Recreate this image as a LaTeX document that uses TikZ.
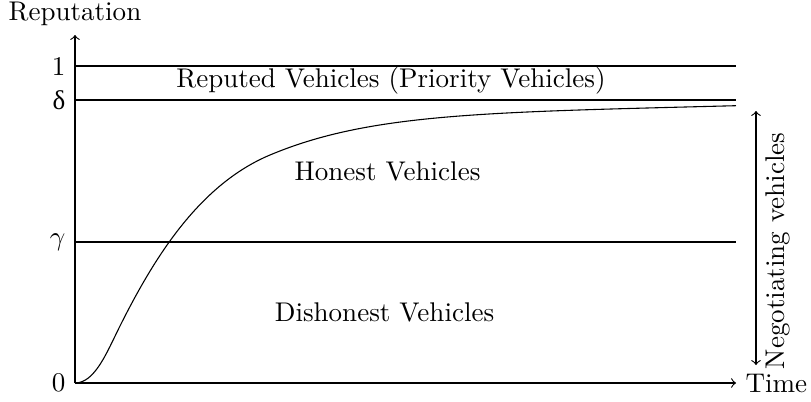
\documentclass[tikz,border=0pt]{standalone}
\usepackage{fontspec}
\newfontfamily\greekfont{Liberation Serif}
\usetikzlibrary{positioning, arrows.meta}

\begin{document}
\begin{tikzpicture}[
    >=to, % Thin default arrows
    % Styles
    axis/.style={ % Time and reputation axes
        ->
    },
    level/.style={ % Reputation thresholds
        black
    },
    ticklabel/.style={ % Values on the reputation axis
        left
    },
    region/.style={ % Vehicle classes
        align=center
    }
]
    \useasboundingbox (-0.975,-0.247) rectangle (9.568,4.979);

    % Axes
    \coordinate (o) at (0,0);
    \coordinate (xend) at (8.593,0);
    \coordinate (yend) at (0,4.524);
    \draw[axis] (o) -- (xend);
    \draw[axis] (o) -- (yend);
    \node[right] (xlabel) at (xend) {Time};
    \node[anchor=base] (ylabel) at (0,4.719) {Reputation};

    % Threshold lines
    \coordinate (one) at (0,4.121);
    \coordinate (oneend) at (8.593,4.121);
    \coordinate (delta) at (0,3.679);
    \coordinate (deltaend) at (8.593,3.679);
    \coordinate (gamma) at (0,1.833);
    \coordinate (gammaend) at (8.593,1.833);
    \draw[level] (one) -- (oneend);
    \draw[level] (delta) -- (deltaend);
    \draw[level] (gamma) -- (gammaend);

    % Axis values
    \node[ticklabel] (zerolabel) at (o) {0};
    \node[ticklabel] (onelabel) at (one) {1};
    \node[ticklabel] (deltalabel) at (delta) {\greekfont δ};
    \node[ticklabel] (gammalabel) at (gamma) {$\gamma$};

    % Reputation over time
    \draw (o) .. controls (0.26,0) and (0.416,0.403) .. (0.585,0.741)
        .. controls (1.04,1.651) and (1.625,2.582) .. (2.535,2.964)
        .. controls (3.835,3.51) and (5.343,3.52) .. (8.593,3.605);

    % Vehicle classes
    \node[region] (reputed) at (4.108,3.926) {Reputed Vehicles (Priority Vehicles)};
    \node[region] (honest) at (4.063,2.747) {Honest Vehicles};
    \node[region] (dishonest) at (4.024,0.914) {Dishonest Vehicles};

    % Negotiating range
    \coordinate (nlow) at (8.853,0.234);
    \coordinate (nhigh) at (8.853,3.536);
    \draw[<->] (nlow) -- node[sloped, below, pos=0.45] (nlabel) {Negotiating vehicles} (nhigh);
\end{tikzpicture}
\end{document}
